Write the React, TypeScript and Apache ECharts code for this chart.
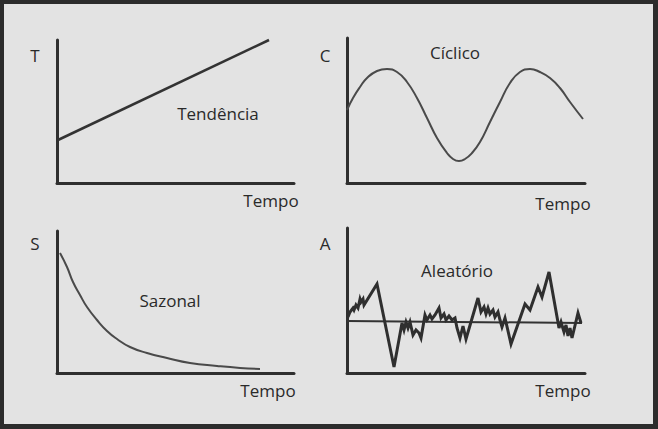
import React, { useEffect, useRef } from "react";
import * as echarts from "echarts";

// Panel labels
const axisLetters = ["T", "C", "S", "A"];
const panelTitles = ["Tendência", "Cíclico", "Sazonal", "Aleatório"];
const xAxisName = "Tempo";

// Tendência (trend) – [time, value]
const trendData: number[][] = [
  [1, 43],
  [212, 143],
];

// Cíclico (cyclic) – [time, value]
const cyclicData: number[][] = [
  [0, 73], [6, 85], [13, 96], [20, 105], [30, 112], [40, 114], [50, 111],
  [60, 101], [70, 85], [80, 65], [90, 45], [100, 30], [106, 24], [112, 22],
  [118, 24], [125, 30], [133, 41], [143, 61], [153, 81], [163, 100], [173, 111],
  [183, 114], [193, 111], [203, 105], [213, 95], [223, 81], [236, 64],
];

// Sazonal (decay) – [time, value]
const seasonalData: number[][] = [
  [3, 120], [10, 106], [16, 91], [23, 78], [30, 66], [40, 53], [50, 42],
  [60, 34], [73, 26], [90, 20], [110, 15], [133, 10], [160, 7], [183, 5],
  [203, 4],
];

// Aleatório (random) – [time, value]
const randomData: number[][] = [
  [1, 56], [3, 61], [6, 65], [7, 63], [9, 68], [11, 65], [13, 74], [14, 71],
  [16, 74], [17, 68], [30, 89], [47, 6], [55, 50], [57, 43], [59, 51],
  [61, 45], [63, 51], [66, 38], [69, 43], [72, 40], [74, 35], [78, 58],
  [80, 53], [83, 58], [85, 54], [88, 58], [92, 65], [94, 55], [97, 59],
  [99, 53], [102, 57], [105, 53], [108, 55], [110, 45], [113, 35], [116, 47],
  [119, 34], [131, 75], [134, 61], [137, 66], [139, 59], [141, 65], [143, 59],
  [146, 63], [148, 56], [151, 61], [153, 53], [155, 46], [158, 55], [164, 29],
  [178, 69], [183, 63], [191, 86], [195, 76], [202, 101], [212, 45], [214, 51],
  [217, 41], [219, 48], [221, 37], [223, 45], [225, 35], [231, 60], [234, 50],
];

// Mean level of the random series
const randomMean: number[][] = [
  [0, 52],
  [235, 50],
];

const xMax = [237, 238, 237, 238];
const yMax = [143, 145, 142, 145];

export default function App() {
  const ref = useRef<HTMLDivElement>(null);

  useEffect(() => {
    if (!ref.current) return;
    const chart = echarts.init(ref.current, undefined, { renderer: "svg" });
    const ink = "#2a2a2a";
    const font = '17px "Open Sans", sans-serif';

    const grids = [
      { left: 57, top: 40, width: 237, height: 143 },
      { left: 347, top: 38, width: 238, height: 145 },
      { left: 57, top: 231, width: 237, height: 142 },
      { left: 347, top: 228, width: 238, height: 145 },
    ];

    const axisBase = {
      type: "value" as const,
      axisTick: { show: false },
      axisLabel: { show: false },
      splitLine: { show: false },
      axisLine: { show: true, onZero: false, lineStyle: { color: "#2f2f2f", width: 3 } },
    };

    const xAxes = grids.map((_, i) => ({ ...axisBase, gridIndex: i, min: 0, max: xMax[i] }));
    const yAxes = grids.map((_, i) => ({ ...axisBase, gridIndex: i, min: 0, max: yMax[i] }));

    const lineSeries = (data: number[][], idx: number, opts: any = {}) => ({
      type: "line",
      xAxisIndex: idx,
      yAxisIndex: idx,
      data,
      showSymbol: false,
      symbol: "none",
      clip: false,
      lineStyle: { color: "#4a4a4a", width: 2 },
      ...opts,
    });

    const letterPos = [
      [35, 55],
      [325, 55],
      [35, 243],
      [325, 243],
    ];
    const titlePos = [
      [218, 113],
      [455, 52],
      [170, 300],
      [457, 270],
    ];
    const tempoPos = [
      [271, 200],
      [563, 203],
      [268, 390],
      [563, 390],
    ];

    const textEl = (text: string, x: number, y: number) => ({
      type: "text",
      x,
      y,
      style: {
        text,
        fill: ink,
        font,
        textAlign: "center",
        textVerticalAlign: "middle",
      },
    });

    const graphics: any[] = [
      {
        type: "rect",
        z: -10,
        shape: { x: 4, y: 4, width: 649, height: 420 },
        style: { fill: "#e3e3e3" },
      },
    ];
    for (let i = 0; i < 4; i++) {
      graphics.push(textEl(axisLetters[i], letterPos[i][0], letterPos[i][1]));
      graphics.push(textEl(panelTitles[i], titlePos[i][0], titlePos[i][1]));
      graphics.push(textEl(xAxisName, tempoPos[i][0], tempoPos[i][1]));
    }

    chart.setOption({
      animation: false,
      backgroundColor: "#2c2c2c",
      grid: grids,
      xAxis: xAxes,
      yAxis: yAxes,
      graphic: graphics,
      series: [
        lineSeries(trendData, 0, { lineStyle: { color: "#333", width: 2.5 } }),
        lineSeries(cyclicData, 1, { smooth: true }),
        lineSeries(seasonalData, 2, { smooth: true }),
        lineSeries(randomMean, 3, { lineStyle: { color: "#333", width: 2 } }),
        lineSeries(randomData, 3, { lineStyle: { color: "#2f2f2f", width: 3, join: "miter" } }),
      ],
    });

    return () => chart.dispose();
  }, []);

  return (
    <div
      ref={ref}
      style={{ position: "fixed", left: 0, top: 0, width: 658, height: 429 }}
    />
  );
}
